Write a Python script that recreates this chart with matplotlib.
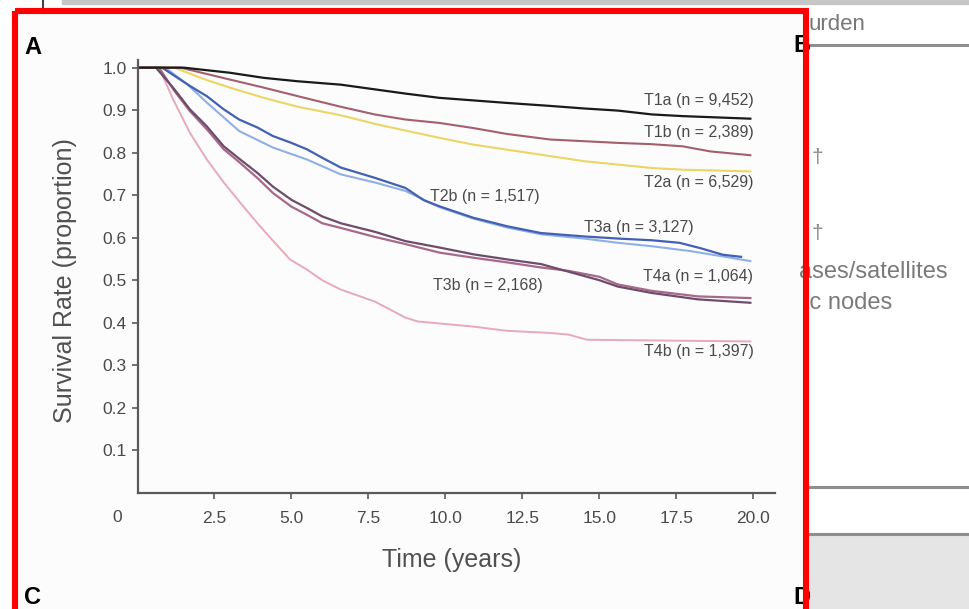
import matplotlib.pyplot as plt
from matplotlib.patches import Rectangle

plt.rcParams['font.family'] = ['Liberation Sans', 'DejaVu Sans']

# survival curves (time in years, proportion surviving)
t1a_t = [0, 1.5, 3.0, 4.1, 5.2, 6.6, 7.7, 8.7, 9.8, 10.9, 12.0, 13.4, 14.5, 15.6, 16.7, 17.7, 19.9]
t1a_s = [1.0, 1.0, 0.988, 0.976, 0.968, 0.96, 0.949, 0.939, 0.929, 0.923, 0.917, 0.91, 0.904, 0.899, 0.89, 0.886, 0.88]

t1b_t = [0, 1.4, 3.0, 4.1, 5.2, 6.6, 7.7, 8.7, 9.8, 10.9, 12.0, 13.4, 14.5, 15.6, 16.7, 17.7, 18.6, 19.9]
t1b_s = [1.0, 1.0, 0.972, 0.953, 0.933, 0.908, 0.89, 0.878, 0.87, 0.858, 0.844, 0.831, 0.827, 0.823, 0.82, 0.815, 0.803, 0.794]

t2a_t = [0, 1.2, 2.2, 3.0, 4.1, 5.2, 6.6, 7.7, 8.7, 9.8, 10.9, 12.0, 13.4, 14.5, 15.6, 16.7, 17.7, 19.9]
t2a_s = [1.0, 1.0, 0.972, 0.953, 0.929, 0.908, 0.888, 0.868, 0.852, 0.835, 0.819, 0.807, 0.792, 0.78, 0.772, 0.764, 0.76, 0.756]

t2b_t = [0, 0.8, 1.7, 2.25, 2.8, 3.3, 3.9, 4.4, 5.0, 5.5, 6.0, 6.6, 7.7, 8.7, 9.3, 9.8, 10.9, 12.0, 13.1, 14.5, 15.6, 16.7, 17.6, 18.3, 19.0, 19.6]
t2b_s = [1.0, 1.0, 0.957, 0.933, 0.902, 0.878, 0.859, 0.839, 0.823, 0.808, 0.788, 0.765, 0.741, 0.717, 0.688, 0.674, 0.647, 0.627, 0.611, 0.603, 0.598, 0.594, 0.588, 0.575, 0.56, 0.555]

t3a_t = [0, 0.9, 1.6, 2.25, 3.3, 4.4, 5.5, 6.6, 7.7, 8.7, 9.8, 10.9, 12.0, 13.1, 14.5, 15.6, 16.7, 18.0, 19.0, 19.9]
t3a_s = [1.0, 1.0, 0.962, 0.918, 0.851, 0.812, 0.784, 0.749, 0.73, 0.71, 0.672, 0.645, 0.624, 0.608, 0.598, 0.588, 0.58, 0.568, 0.556, 0.545]

t3b_t = [0, 0.6, 1.2, 1.7, 2.25, 2.8, 3.3, 3.9, 4.4, 5.0, 5.5, 6.0, 6.6, 7.7, 8.7, 9.8, 10.9, 12.0, 13.1, 14.0, 15.0, 15.6, 16.7, 18.2, 19.9]
t3b_s = [1.0, 1.0, 0.949, 0.902, 0.862, 0.815, 0.786, 0.752, 0.72, 0.689, 0.67, 0.65, 0.634, 0.614, 0.592, 0.577, 0.561, 0.549, 0.538, 0.52, 0.5, 0.485, 0.47, 0.455, 0.447]

t4a_t = [0, 0.7, 1.2, 1.7, 2.25, 2.8, 3.3, 3.9, 4.4, 5.0, 5.5, 6.0, 6.6, 7.7, 8.7, 9.8, 10.9, 12.0, 13.1, 14.0, 15.0, 15.6, 16.7, 18.2, 19.9]
t4a_s = [1.0, 1.0, 0.945, 0.898, 0.855, 0.808, 0.778, 0.74, 0.705, 0.673, 0.654, 0.634, 0.623, 0.602, 0.585, 0.565, 0.553, 0.542, 0.53, 0.522, 0.508, 0.49, 0.475, 0.462, 0.458]

t4b_t = [0, 0.7, 1.16, 1.7, 2.25, 2.8, 3.33, 3.87, 4.41, 4.95, 5.5, 6.0, 6.6, 7.7, 8.7, 9.1, 10.9, 12.0, 13.4, 14.0, 14.6, 19.9]
t4b_s = [1.0, 1.0, 0.925, 0.847, 0.784, 0.73, 0.683, 0.636, 0.592, 0.549, 0.525, 0.5, 0.478, 0.45, 0.412, 0.403, 0.391, 0.381, 0.376, 0.372, 0.36, 0.356]

curve_labels = ['T1a (n = 9,452)', 'T1b (n = 2,389)', 'T2a (n = 6,529)', 'T2b (n = 1,517)',
                'T3a (n = 3,127)', 'T3b (n = 2,168)', 'T4a (n = 1,064)', 'T4b (n = 1,397)']
x_ticks = [2.5, 5.0, 7.5, 10.0, 12.5, 15.0, 17.5, 20.0]
y_ticks = [0.1, 0.2, 0.3, 0.4, 0.5, 0.6, 0.7, 0.8, 0.9, 1.0]

fig = plt.figure(figsize=(9.69, 6.09), dpi=100, facecolor='white')

# page around the chart, in pixel coords
bg = fig.add_axes([0, 0, 1, 1], zorder=0)
bg.set_xlim(0, 969)
bg.set_ylim(609, 0)
bg.axis('off')
bg.add_patch(Rectangle((15, 11), 791, 620, color='#fcfcfc'))
bg.add_patch(Rectangle((62, 0), 907, 4, color='#c6c6c6'))
bg.plot([43, 43], [0, 13], color='#444444', lw=1.5)
bg.add_patch(Rectangle((809, 536), 160, 73, color='#e5e5e5'))
for yy in [45, 487, 534]:
    bg.plot([809, 969], [yy, yy], color='#8e8e8e', lw=2.2)
bg.text(809, 25, 'urden', fontsize=16, color='#777777', va='center')
bg.text(812, 158, '†', fontsize=15, color='#888888', va='center')
bg.text(812, 233, '†', fontsize=15, color='#888888', va='center')
bg.text(799, 272, 'ases/satellites', fontsize=17, color='#7a7a7a', va='center')
bg.text(804, 303, 'ic nodes', fontsize=17, color='#7a7a7a', va='center')
bg.text(24, 47, 'A', fontsize=17, fontweight='bold', color='black', va='center')
bg.text(793, 46, 'B', fontsize=17, fontweight='bold', color='black', va='center')
bg.text(24, 597, 'C', fontsize=17, fontweight='bold', color='black', va='center')
bg.text(793, 597, 'D', fontsize=17, fontweight='bold', color='black', va='center')

# the chart
ax = fig.add_axes([137.5 / 969, 1 - 492.8 / 609, 637.5 / 969, 432.8 / 609], zorder=1)
ax.set_facecolor('none')

ax.plot(t4b_t, t4b_s, color='#e8a9b9', lw=1.4)
ax.plot(t4a_t, t4a_s, color='#a8688a', lw=1.6)
ax.plot(t3b_t, t3b_s, color='#6e4c6c', lw=1.6)
ax.plot(t3a_t, t3a_s, color='#8fb0e6', lw=1.5)
ax.plot(t2b_t, t2b_s, color='#4360b4', lw=1.6)
ax.plot(t2a_t, t2a_s, color='#ecd564', lw=1.5)
ax.plot(t1b_t, t1b_s, color='#a45f6e', lw=1.5)
ax.plot(t1a_t, t1a_s, color='#1a1a1a', lw=1.6)

lab_kw = dict(fontsize=11.5, color='#4a4a4a', va='center')
ax.text(20.0, 0.923, curve_labels[0], ha='right', **lab_kw)
ax.text(20.0, 0.848, curve_labels[1], ha='right', **lab_kw)
ax.text(20.0, 0.730, curve_labels[2], ha='right', **lab_kw)
ax.text(9.5, 0.697, curve_labels[3], ha='left', **lab_kw)
ax.text(14.5, 0.624, curve_labels[4], ha='left', **lab_kw)
ax.text(9.6, 0.487, curve_labels[5], ha='left', **lab_kw)
ax.text(20.0, 0.508, curve_labels[6], ha='right', **lab_kw)
ax.text(20.0, 0.332, curve_labels[7], ha='right', **lab_kw)

ax.set_xlim(0, 20.7)
ax.set_ylim(0, 1.018)
ax.set_xticks(x_ticks)
ax.set_xticklabels([f'{v:.1f}' for v in x_ticks])
ax.set_yticks(y_ticks)
ax.set_yticklabels([f'{v:.1f}' for v in y_ticks])
ax.text(-0.65, -0.057, '0', ha='center', va='center', fontsize=12.5, color='#4a4a4a', clip_on=False)

for s in ['top', 'right']:
    ax.spines[s].set_visible(False)
for s in ['left', 'bottom']:
    ax.spines[s].set_color('#5a5a5a')
    ax.spines[s].set_linewidth(1.6)
ax.tick_params(axis='x', length=4, width=1.2, color='#5a5a5a', pad=9, labelsize=12.5, labelcolor='#4a4a4a')
ax.tick_params(axis='y', length=4, width=1.2, color='#5a5a5a', pad=4, labelsize=12.5, labelcolor='#4a4a4a')

ax.set_xlabel('Time (years)', fontsize=18, color='#505050', va='center')
ax.xaxis.set_label_coords(0.493, -0.155)
ax.set_ylabel('Survival Rate (proportion)', fontsize=18, color='#505050', va='center')
ax.yaxis.set_label_coords(-0.114, 0.49)

# red highlight frame over everything
top = fig.add_axes([0, 0, 1, 1], zorder=3)
top.set_xlim(0, 969)
top.set_ylim(609, 0)
top.axis('off')
top.add_patch(Rectangle((15, 11), 791, 640, fill=False, edgecolor='#ff0000', lw=4.4))

fig.savefig('out.png', dpi=100)
